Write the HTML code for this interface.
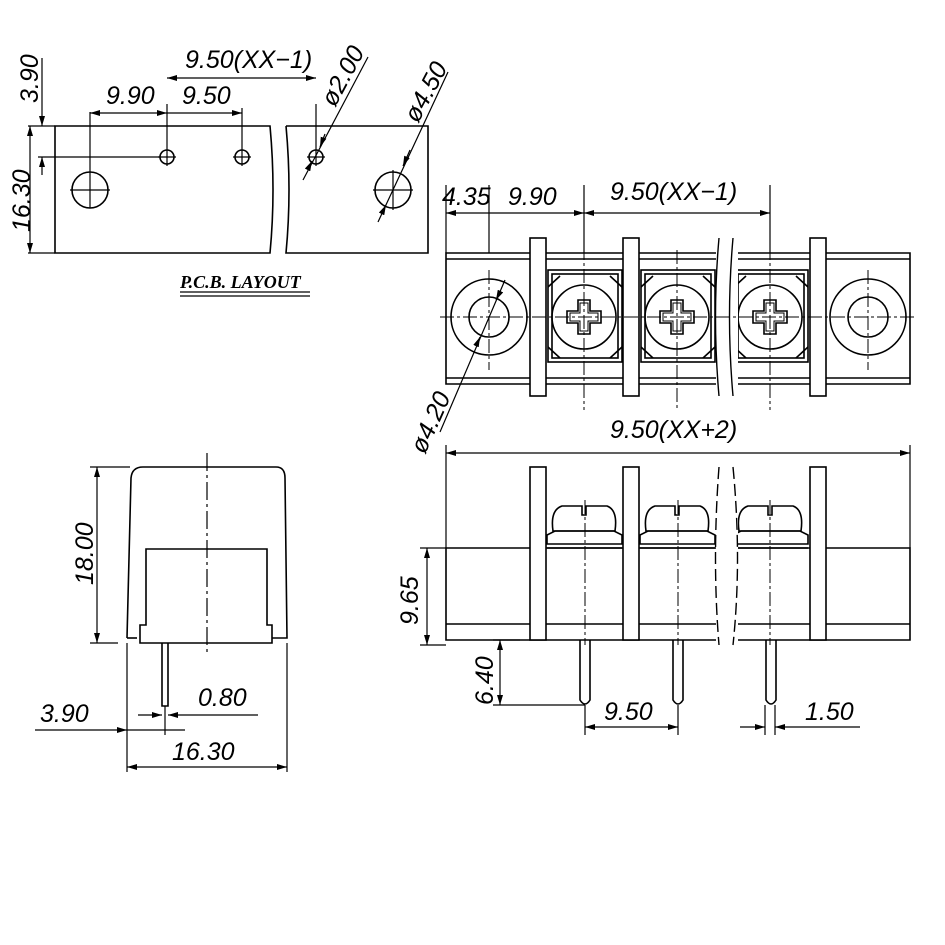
<!DOCTYPE html>
<html><head><meta charset="utf-8"><style>
html,body{margin:0;padding:0;background:#fff}
svg{display:block}
text{font-family:"Liberation Sans","DejaVu Sans",sans-serif;font-style:italic;fill:#000}
</style></head><body>
<svg width="945" height="945" viewBox="0 0 945 945" xmlns="http://www.w3.org/2000/svg">
<defs>
<marker id="a" viewBox="0 0 10 6" refX="10" refY="3" markerWidth="10" markerHeight="6" orient="auto-start-reverse" markerUnits="userSpaceOnUse"><path d="M0,0 L10,3 L0,6 z" fill="#000"/></marker>
</defs>
<g stroke="#000" stroke-width="1.6" fill="none">
<!-- PCB layout -->
<path d="M55,126 H270 Q276,190 270,253 H55 Z"/>
<path d="M286,126 H428 V253 H286 Q292,190 286,126"/>
<circle cx="90" cy="190" r="18"/><circle cx="167" cy="157" r="7"/><circle cx="242" cy="157" r="7"/><circle cx="316" cy="157" r="7"/><circle cx="393" cy="190" r="18"/>
<g stroke-width="1.2">
<path d="M70,190 H110 M90,112 V208 M158,157 H176 M167,104 V166 M233,157 H251 M242,108 V166 M307,157 H325 M316,104 V166 M373,190 H413 M393,170 V210"/>
<path d="M90,113 H167" marker-start="url(#a)" marker-end="url(#a)"/>
<path d="M167,113 H242" marker-end="url(#a)"/>
<path d="M167,78 H316" marker-start="url(#a)" marker-end="url(#a)"/>
<path d="M38,157 H160 M28,126 H55 M28,253 H55"/>
<path d="M30,126 V253" marker-start="url(#a)" marker-end="url(#a)"/>
<path d="M42,58 V126" marker-end="url(#a)"/><path d="M42,175 V157" marker-end="url(#a)"/>
<path d="M368,57 L303,180"/><path d="M325,134 L320,147" marker-end="url(#a)"/><path d="M309,167 L312,161" marker-end="url(#a)"/>
<path d="M448,72 L378,222"/><path d="M410,150 L403,166" marker-end="url(#a)"/><path d="M382,213 L386,205" marker-end="url(#a)"/>
</g>
<path d="M180,292 H310 M180,296 H310" stroke-width="1.2"/>
<!-- side view -->
<path d="M127,638 L131,478 Q132,467 143,467 H276 Q285,467 285,478 L287,638 H272"/>
<path d="M127,638 H137"/>
<path d="M140,643 H272 V625 H267 V549 H146 V625 H140 Z"/>
<path d="M162,643 V706 H168 V643"/>
<path d="M207,453 V655" stroke-width="1.2" stroke-dasharray="18,4,3,4"/>
<g stroke-width="1.2">
<path d="M90,467 H130 M90,643 H118"/>
<path d="M97,467 V643" marker-start="url(#a)" marker-end="url(#a)"/>
<path d="M127,643 V772 M287,643 V772 M165,706 V735"/>
<path d="M127,767 H287" marker-start="url(#a)" marker-end="url(#a)"/>
<path d="M35,730 H127" marker-end="url(#a)"/><path d="M185,730 H127"/>
<path d="M138,715 H162" marker-end="url(#a)"/><path d="M258,715 H168" marker-end="url(#a)"/>
</g>
<!-- top view -->
<path d="M446,253 H910 V384 H446 Z M446,259 H910 M446,378 H910"/>
<rect x="530" y="238" width="16" height="158" fill="#fff"/>
<rect x="623" y="238" width="16" height="158" fill="#fff"/>
<rect x="810" y="238" width="16" height="158" fill="#fff"/>
<circle cx="489" cy="317" r="38"/><circle cx="489" cy="317" r="20"/>
<circle cx="868" cy="317" r="38"/><circle cx="868" cy="317" r="20"/>
<g id="t">
<rect x="548" y="270" width="74" height="92"/>
<rect x="552" y="274" width="66" height="84"/>
<circle cx="584" cy="317" r="32"/>
<path d="M548,287 L560,276 M622,287 L610,276 M548,347 L560,358 M622,347 L610,358"/>
<path d="M578,300 H590 V311 H601 V323 H590 V334 H578 V323 H567 V311 H578 Z"/>
<path d="M580,303 H588 V313 H598 V321 H588 V331 H580 V321 H570 V313 H580 Z" stroke-width="1"/>
</g>
<use href="#t" x="93"/><use href="#t" x="186"/>
<rect x="716" y="236" width="22" height="164" fill="#fff" stroke="none"/>
<path d="M719,238 Q712,317 719,396 M733,238 Q726,317 733,396" stroke-width="1.4"/>
<g stroke-width="1" stroke-dasharray="14,3,3,3">
<path d="M440,317 H915 M489,270 V370 M868,270 V370 M584,200 V410 M677,250 V410 M770,200 V410"/>
</g>
<g stroke-width="1.2">
<path d="M446,185 V253 M489,185 V253 M584,185 V253 M770,185 V253"/>
<path d="M489,213 H446" marker-end="url(#a)"/>
<path d="M489,213 H584" marker-end="url(#a)"/>
<path d="M584,213 H770" marker-start="url(#a)" marker-end="url(#a)"/>
<path d="M505,280 L440,432"/><path d="M500,292 L496,300" marker-end="url(#a)"/><path d="M476,346 L480,337" marker-end="url(#a)"/>
</g>
<!-- front view -->
<path d="M446,548 H910 V640 H446 Z M446,624 H910"/>
<rect x="530" y="467" width="16" height="173" fill="#fff"/>
<rect x="623" y="467" width="16" height="173" fill="#fff"/>
<rect x="810" y="467" width="16" height="173" fill="#fff"/>
<g id="s">
<path d="M553,531 Q550,510 562,506 H582 V515 H586 V506 H607 Q618,510 615,531 Z"/>
<path d="M547,544 V535 L555,531 H614 L622,535 V544 Z M547,548 H622"/>
<path d="M580,640 V700 Q585,708 590,700 V640"/>
</g>
<use href="#s" x="93"/><use href="#s" x="186"/>
<rect x="716" y="465" width="22" height="180" fill="#fff" stroke="none"/>
<path d="M719,467 Q712,560 719,645 M733,467 Q742,560 733,645" stroke-width="1.4" stroke-dasharray="12,5"/>
<g stroke-width="1" stroke-dasharray="14,3,3,3"><path d="M585,500 V645 M678,500 V645 M770,500 V645"/></g>
<g stroke-width="1.2">
<path d="M446,445 V548 M910,445 V548"/>
<path d="M446,453 H910" marker-start="url(#a)" marker-end="url(#a)"/>
<path d="M420,548 H446 M420,645 H446"/>
<path d="M427,548 V645" marker-start="url(#a)" marker-end="url(#a)"/>
<path d="M493,705 H585 M493,640 H520"/>
<path d="M500,640 V705" marker-start="url(#a)" marker-end="url(#a)"/>
<path d="M585,705 V735 M678,705 V735 M765,705 V735 M775,705 V735"/>
<path d="M585,727 H678" marker-start="url(#a)" marker-end="url(#a)"/>
<path d="M740,727 H765" marker-end="url(#a)"/><path d="M860,727 H775" marker-end="url(#a)"/>
</g>
</g>
<g font-size="25">
<text x="185" y="68">9.50(XX−1)</text>
<text x="106" y="104">9.90</text>
<text x="182" y="104">9.50</text>
<text transform="translate(38,103) rotate(-90)">3.90</text>
<text transform="translate(30,232) rotate(-90)">16.30</text>
<text transform="translate(335,108) rotate(-62)">ø2.00</text>
<text transform="translate(418,124) rotate(-62)">ø4.50</text>
<text x="442" y="205">4.35</text>
<text x="508" y="205">9.90</text>
<text x="610" y="200">9.50(XX−1)</text>
<text transform="translate(425,455) rotate(-66)">ø4.20</text>
<text x="610" y="438">9.50(XX+2)</text>
<text transform="translate(93,585) rotate(-90)">18.00</text>
<text transform="translate(418,625) rotate(-90)">9.65</text>
<text transform="translate(493,705) rotate(-90)">6.40</text>
<text x="604" y="720">9.50</text>
<text x="805" y="720">1.50</text>
<text x="198" y="706">0.80</text>
<text x="40" y="722">3.90</text>
<text x="172" y="760">16.30</text>
</g>
<text x="180" y="288" style="font-family:'Liberation Serif',serif;font-style:italic" font-weight="bold" font-size="18">P.C.B.  LAYOUT</text>
</svg>
</body></html>
